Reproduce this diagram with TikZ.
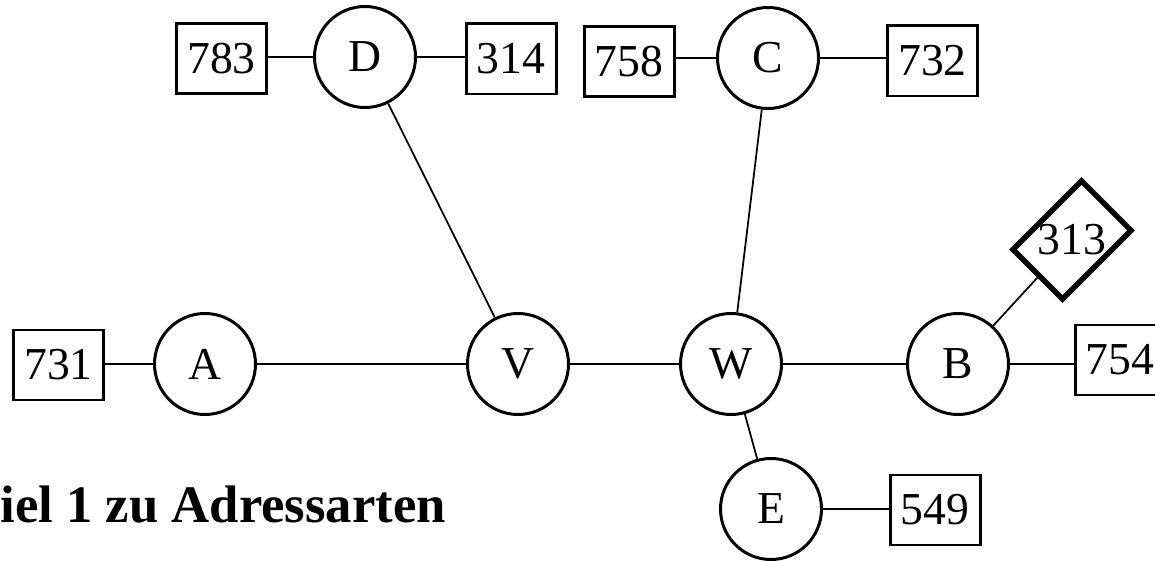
\documentclass[tikz,border=0pt]{standalone}
\usepackage{fontspec}
\setmainfont{Liberation Serif}
\usepackage{tikz}

\begin{document}
\begin{tikzpicture}[
  knoten/.style={circle,draw,line width=1.7pt,minimum size=2.02cm,inner sep=0pt,font=\fontsize{26}{26}\selectfont},
  adresse/.style={rectangle,draw,line width=1.7pt,minimum width=1.80cm,minimum height=1.40cm,inner sep=0pt,font=\fontsize{26}{26}\selectfont},
  verbindung/.style={line width=1pt}]
\useasboundingbox (0,0) rectangle (23.1,11.2);
%Rechner
\path (4.10,3.92) node(a) [knoten]{A};
\path (10.36,3.92) node(v) [knoten]{V};
\path (14.62,3.92) node(w) [knoten]{W};
\path (19.16,3.92) node(b) [knoten]{B};
\path (15.42,1.02) node(e) [knoten]{E};
\path (7.30,10.06) node(d) [knoten]{D};
\path (15.36,10.04) node(c) [knoten]{C};
%Adressen
\path (1.17,3.90) node(k731) [adresse]{731};
\path (4.43,10.03) node(k783) [adresse]{783};
\path (10.22,10.02) node(k314) [adresse]{314};
\path (12.58,9.96) node(k758) [adresse]{758};
\path (18.65,9.98) node(k732) [adresse]{732};
\path (22.40,4.00) node(k754) [adresse]{754};
\path (18.70,1.00) node(k549) [adresse]{549};
\path (21.44,6.40) node(r313) [adresse,minimum width=1.94cm,minimum height=1.40cm,line width=3.1pt,rotate=45]{};
\path (r313.center) node(k313) [font=\fontsize{26}{26}\selectfont]{313};
\path (0,0.76) node(titel) [anchor=base west,inner sep=0pt,font=\bfseries\fontsize{30}{30}\selectfont]{iel 1 zu Adressarten};
%Leitungen
\draw[verbindung] (a) -- (v);
\draw[verbindung] (v) -- (w);
\draw[verbindung] (w) -- (b);
\draw[verbindung] (d) -- (v);
\draw[verbindung] (c) -- (w);
\draw[verbindung] (w) -- (e);
\draw[verbindung] (b) -- (r313);
\draw[verbindung] (a) -- (a -| k731.east);
\draw[verbindung] (d) -- (d -| k783.east);
\draw[verbindung] (d) -- (d -| k314.west);
\draw[verbindung] (c) -- (c -| k758.east);
\draw[verbindung] (c) -- (c -| k732.west);
\draw[verbindung] (b) -- (b -| k754.west);
\draw[verbindung] (e) -- (e -| k549.west);
\end{tikzpicture}
\end{document}
